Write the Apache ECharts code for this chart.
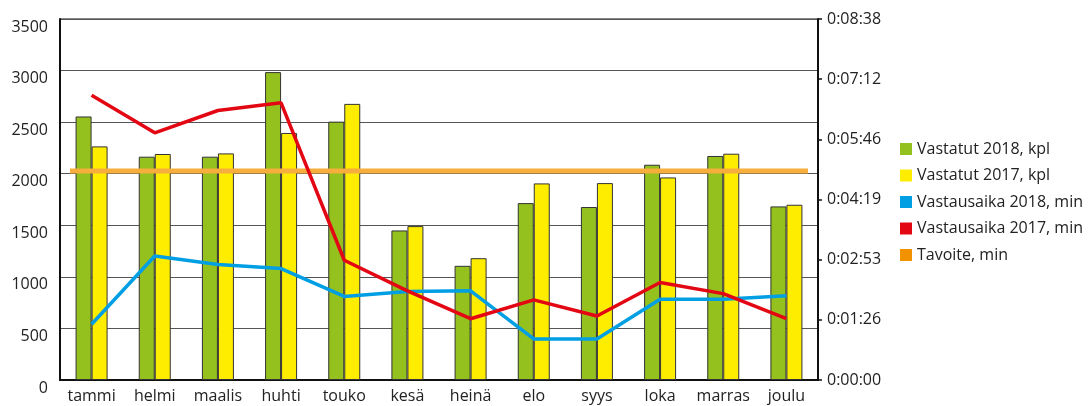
<!DOCTYPE html>
<html><head><meta charset="utf-8">
<script src="https://cdn.jsdelivr.net/npm/echarts@6/dist/echarts.min.js"></script>
<style>html,body{margin:0;padding:0;background:#fff}#c{width:1091px;height:406px}</style>
</head><body><div id="c"></div>
<script>
const months = ['tammi','helmi','maalis','huhti','touko','kesä','heinä','elo','syys','loka','marras','joulu'];
const vastatut2018 = [2555, 2165, 2165, 2985, 2505, 1450, 1107, 1715, 1677, 2087, 2172, 1683];
const vastatut2017 = [2265, 2191, 2197, 2395, 2677, 1492, 1181, 1906, 1909, 1964, 2194, 1699];
// response times in seconds
const aika2018 = [80, 178, 166, 160, 120, 127, 128, 59, 59, 116, 116, 121];
const aika2017 = [409, 355, 387, 398, 172, 128, 88, 115, 92, 140, 124, 88];
const tavoite = [300, 300, 300, 300, 300, 300, 300, 300, 300, 300, 300, 300];
const countTicks = {min: 0, max: 3500, interval: 500};
const timeTicks = {min: 0, max: 518.4, interval: 86.4};

const FONT = 'Open Sans';
function fmtTime(v){
  const s = Math.round(v);
  const h = Math.floor(s/3600), m = Math.floor((s%3600)/60), sec = s%60;
  return h + ':' + String(m).padStart(2,'0') + ':' + String(sec).padStart(2,'0');
}
const chart = echarts.init(document.getElementById('c'), null, {renderer:'canvas'});
chart.setOption({
  animation: false,
  textStyle: {fontFamily: FONT},
  grid: [
    {left: 60, right: 273, top: 19, bottom: 26, show: true, borderColor: '#111', borderWidth: 1, backgroundColor: 'transparent'},
    {left: 70, right: 283, top: 19, bottom: 26}
  ],
  legend: {
    orient: 'vertical', left: 895, top: 136,
    itemWidth: 12, itemHeight: 12, itemGap: 10.5,
    icon: 'rect',
    itemStyle: {borderWidth: 0},
    textStyle: {fontFamily: FONT, fontSize: 16, color: '#222', lineHeight: 16},
    data: ['Vastatut 2018, kpl','Vastatut 2017, kpl','Vastausaika 2018, min','Vastausaika 2017, min','Tavoite, min']
  },
  xAxis: [
    {type: 'category', gridIndex: 0, data: months,
     axisLine: {lineStyle: {color: '#111', width: 2}},
     axisTick: {inside: true, length: 8, lineStyle: {color: '#111', width: 2}},
     axisLabel: {color: '#222', fontSize: 16, margin: 8, interval: 0}},
    {type: 'category', gridIndex: 1, data: months, boundaryGap: false, show: false}
  ],
  yAxis: [
    {type: 'value', gridIndex: 0, position: 'left', min: countTicks.min, max: countTicks.max, interval: countTicks.interval,
     axisLine: {show: true, lineStyle: {color: '#111', width: 2}},
     axisTick: {show: false},
     splitLine: {lineStyle: {color: '#555', width: 1}},
     axisLabel: {color: '#222', fontSize: 16, margin: 12, verticalAlign: 'top', formatter: v => String(v)}},
    {type: 'value', gridIndex: 0, position: 'right', min: timeTicks.min, max: timeTicks.max, interval: timeTicks.interval,
     axisLine: {show: true, lineStyle: {color: '#111', width: 2}},
     axisTick: {show: true, length: 4, lineStyle: {color: '#111', width: 1.5}},
     splitLine: {show: false},
     axisLabel: {color: '#222', fontSize: 16, margin: 9, formatter: fmtTime}},
    {type: 'value', gridIndex: 1, min: timeTicks.min, max: timeTicks.max, show: false}
  ],
  series: [
    {name: 'Vastatut 2018, kpl', type: 'bar', xAxisIndex: 0, yAxisIndex: 0, data: vastatut2018,
     barWidth: 16, barGap: '0%',
     itemStyle: {color: '#95c11f', borderColor: '#333', borderWidth: 1}},
    {name: 'Vastatut 2017, kpl', type: 'bar', xAxisIndex: 0, yAxisIndex: 0, data: vastatut2017,
     barWidth: 16, barGap: '0%',
     itemStyle: {color: '#ffed00', borderColor: '#333', borderWidth: 1}},
    {name: 'Tavoite, min', type: 'line', xAxisIndex: 1, yAxisIndex: 2, data: tavoite, z: 3,
     symbol: 'none', itemStyle: {color: '#f39200'}, lineStyle: {color: '#f6ae3c', width: 5}},
    {name: 'Vastausaika 2018, min', type: 'line', xAxisIndex: 0, yAxisIndex: 1, data: aika2018, z: 4,
     symbol: 'none', itemStyle: {color: '#009fe3'}, lineStyle: {color: '#009fe3', width: 3.5}},
    {name: 'Vastausaika 2017, min', type: 'line', xAxisIndex: 0, yAxisIndex: 1, data: aika2017, z: 5,
     symbol: 'none', itemStyle: {color: '#e30613'}, lineStyle: {color: '#e30613', width: 3.5}}
  ]
});
</script></body></html>
